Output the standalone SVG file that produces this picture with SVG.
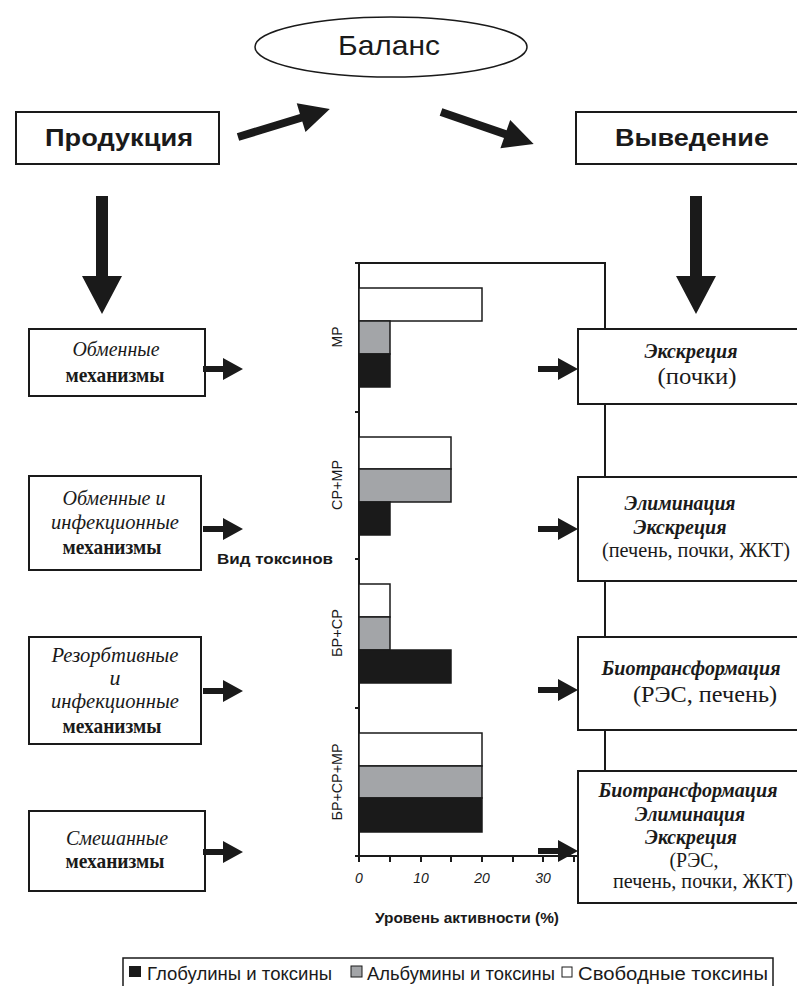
<svg xmlns="http://www.w3.org/2000/svg" xmlns:xlink="http://www.w3.org/1999/xlink" width="797" height="986" viewBox="0 0 797 986">
<style>
.box{fill:#fff;stroke:#1a1a1a;stroke-width:2}
.sans{font-family:"Liberation Sans",Arial,sans-serif;fill:#1a1a1a}
.sb{font-family:"Liberation Sans",Arial,sans-serif;font-weight:bold;fill:#1a1a1a}
.ser{font-family:"Liberation Serif","Times New Roman",serif;fill:#1a1a1a}
.si{font-family:"Liberation Serif","Times New Roman",serif;font-style:italic;fill:#1a1a1a}
.sbi{font-family:"Liberation Serif","Times New Roman",serif;font-style:italic;font-weight:bold;fill:#1a1a1a}
.sbd{font-family:"Liberation Serif","Times New Roman",serif;font-weight:bold;fill:#1a1a1a}
.arr{fill:#1a1a1a}
.axis{stroke:#1a1a1a;stroke-width:2;fill:none}
.bw{fill:#fff;stroke:#1a1a1a;stroke-width:1.5}
.bg{fill:#a3a5a8;stroke:#1a1a1a;stroke-width:1.5}
.bk{fill:#1a1a1a;stroke:#1a1a1a;stroke-width:1.5}
.ylab{font-family:"Liberation Sans",Arial,sans-serif;font-size:15px;fill:#1a1a1a}
.xlab{font-family:"Liberation Sans",Arial,sans-serif;font-size:14px;font-style:italic;fill:#1a1a1a}
</style>
<defs>
<path id="sa" d="M0,-3 H20 V-11 L40,0 L20,11 V3 H0 Z"/>
<path id="da" d="M-6,0 V80 H-20 L0,118 L20,80 H6 V0 Z"/>
</defs>

<!-- chart -->
<g id="chart">
  <path class="axis" d="M359,263 H605 V860 M355,263 H359 M359,263 V856 M355,412 H359 M355,559 H359 M355,708 H359 M355,856 H578"/>
  <path class="axis" stroke-width="1.5" d="M359,856 V862 M390,856 V862 M421,856 V862 M451,856 V862 M482,856 V862 M513,856 V862 M543,856 V862 M574,856 V862"/>
  <rect class="bw" x="359" y="288" width="123" height="33"/>
  <rect class="bg" x="359" y="321" width="31" height="33"/>
  <rect class="bk" x="359" y="354" width="31" height="33"/>
  <rect class="bw" x="359" y="437" width="92" height="32"/>
  <rect class="bg" x="359" y="469" width="92" height="33"/>
  <rect class="bk" x="359" y="502" width="31" height="33"/>
  <rect class="bw" x="359" y="584" width="31" height="33"/>
  <rect class="bg" x="359" y="617" width="31" height="33"/>
  <rect class="bk" x="359" y="650" width="92" height="33"/>
  <rect class="bw" x="359" y="733" width="123" height="33"/>
  <rect class="bg" x="359" y="766" width="123" height="32"/>
  <rect class="bk" x="359" y="798" width="123" height="34"/>
  <text class="ylab" transform="translate(342,337) rotate(-90)" text-anchor="middle" textLength="21" lengthAdjust="spacingAndGlyphs">МР</text>
  <text class="ylab" transform="translate(342,485) rotate(-90)" text-anchor="middle" textLength="50" lengthAdjust="spacingAndGlyphs">СР+МР</text>
  <text class="ylab" transform="translate(342,633) rotate(-90)" text-anchor="middle" textLength="48" lengthAdjust="spacingAndGlyphs">БР+СР</text>
  <text class="ylab" transform="translate(342,782) rotate(-90)" text-anchor="middle" textLength="77" lengthAdjust="spacingAndGlyphs">БР+СР+МР</text>
  <text class="xlab" x="359" y="883" text-anchor="middle">0</text>
  <text class="xlab" x="421" y="883" text-anchor="middle">10</text>
  <text class="xlab" x="482" y="883" text-anchor="middle">20</text>
  <text class="xlab" x="543" y="883" text-anchor="middle">30</text>
  <text class="sb" x="217" y="564" font-size="15" textLength="116" lengthAdjust="spacingAndGlyphs">Вид токсинов</text>
  <text class="sb" x="375" y="923" font-size="14" textLength="184" lengthAdjust="spacingAndGlyphs">Уровень активности (%)</text>
</g>

<!-- top nodes -->
<g id="balance">
  <ellipse cx="391" cy="47" rx="136" ry="30" fill="#fff" stroke="#1a1a1a" stroke-width="1.5"/>
  <text class="sans" x="389" y="55" font-size="28" text-anchor="middle" textLength="102" lengthAdjust="spacingAndGlyphs">Баланс</text>
</g>
<g id="production">
  <rect class="box" x="16" y="112" width="203" height="52"/>
  <text class="sb" x="45" y="146" font-size="23" textLength="148" lengthAdjust="spacingAndGlyphs">Продукция</text>
</g>
<g id="excretion-main">
  <rect class="box" x="576" y="112" width="230" height="52"/>
  <text class="sb" x="615" y="146" font-size="23" textLength="154" lengthAdjust="spacingAndGlyphs">Выведение</text>
</g>

<!-- left nodes -->
<g id="left1">
  <rect class="box" x="29" y="329" width="176" height="67"/>
  <text class="si" x="116" y="356" font-size="22" text-anchor="middle" textLength="87" lengthAdjust="spacingAndGlyphs">Обменные</text>
  <text class="sbd" x="115" y="382" font-size="22" text-anchor="middle" textLength="99" lengthAdjust="spacingAndGlyphs">механизмы</text>
</g>
<g id="left2">
  <rect class="box" x="29" y="476" width="172" height="94"/>
  <text class="si" x="114" y="505" font-size="22" text-anchor="middle" textLength="103" lengthAdjust="spacingAndGlyphs">Обменные и</text>
  <text class="si" x="115" y="529" font-size="22" text-anchor="middle" textLength="128" lengthAdjust="spacingAndGlyphs">инфекционные</text>
  <text class="sbd" x="112" y="554" font-size="22" text-anchor="middle" textLength="99" lengthAdjust="spacingAndGlyphs">механизмы</text>
</g>
<g id="left3">
  <rect class="box" x="29" y="637" width="172" height="107"/>
  <text class="si" x="115" y="662" font-size="22" text-anchor="middle" textLength="127" lengthAdjust="spacingAndGlyphs">Резорбтивные</text>
  <text class="si" x="115" y="685" font-size="22" text-anchor="middle">и</text>
  <text class="si" x="115" y="708" font-size="22" text-anchor="middle" textLength="128" lengthAdjust="spacingAndGlyphs">инфекционные</text>
  <text class="sbd" x="112" y="733" font-size="22" text-anchor="middle" textLength="99" lengthAdjust="spacingAndGlyphs">механизмы</text>
</g>
<g id="left4">
  <rect class="box" x="29" y="811" width="176" height="80"/>
  <text class="si" x="117" y="845" font-size="22" text-anchor="middle" textLength="102" lengthAdjust="spacingAndGlyphs">Смешанные</text>
  <text class="sbd" x="115" y="868" font-size="22" text-anchor="middle" textLength="99" lengthAdjust="spacingAndGlyphs">механизмы</text>
</g>

<!-- right nodes -->
<g id="right1">
  <rect class="box" x="578" y="329" width="230" height="75"/>
  <text class="sbi" x="691" y="358" font-size="21" text-anchor="middle" textLength="93" lengthAdjust="spacingAndGlyphs">Экскреция</text>
  <text class="ser" x="697" y="384" font-size="23" text-anchor="middle" textLength="79" lengthAdjust="spacingAndGlyphs">(почки)</text>
</g>
<g id="right2">
  <rect class="box" x="578" y="477" width="230" height="104"/>
  <text class="sbi" x="680" y="510" font-size="21" text-anchor="middle" textLength="111" lengthAdjust="spacingAndGlyphs">Элиминация</text>
  <text class="sbi" x="680" y="534" font-size="21" text-anchor="middle" textLength="93" lengthAdjust="spacingAndGlyphs">Экскреция</text>
  <text class="ser" x="696" y="557" font-size="20" text-anchor="middle" textLength="188" lengthAdjust="spacingAndGlyphs">(печень, почки, ЖКТ)</text>
</g>
<g id="right3">
  <rect class="box" x="578" y="637" width="230" height="93"/>
  <text class="sbi" x="691" y="675" font-size="21" text-anchor="middle" textLength="179" lengthAdjust="spacingAndGlyphs">Биотрансформация</text>
  <text class="ser" x="705" y="702" font-size="24" text-anchor="middle" textLength="144" lengthAdjust="spacingAndGlyphs">(РЭС, печень)</text>
</g>
<g id="right4">
  <rect class="box" x="578" y="771" width="230" height="132"/>
  <text class="sbi" x="688" y="797" font-size="21" text-anchor="middle" textLength="179" lengthAdjust="spacingAndGlyphs">Биотрансформация</text>
  <text class="sbi" x="690" y="821" font-size="21" text-anchor="middle" textLength="110" lengthAdjust="spacingAndGlyphs">Элиминация</text>
  <text class="sbi" x="691" y="844" font-size="21" text-anchor="middle" textLength="92" lengthAdjust="spacingAndGlyphs">Экскреция</text>
  <text class="ser" x="694" y="867" font-size="20" text-anchor="middle" textLength="49" lengthAdjust="spacingAndGlyphs">(РЭС,</text>
  <text class="ser" x="703" y="888" font-size="20" text-anchor="middle" textLength="180" lengthAdjust="spacingAndGlyphs">печень, почки, ЖКТ)</text>
</g>

<!-- connectors -->
<g id="connectors" class="arr">
  <path d="M0,-4 H66 V-15 L96,0 L66,15 V4 H0 Z" transform="translate(238,137) rotate(-17)"/>
  <path d="M0,-4 H68 V-15 L98,0 L68,15 V4 H0 Z" transform="translate(441,112) rotate(19)"/>
  <use xlink:href="#da" transform="translate(102,196)"/>
  <use xlink:href="#da" transform="translate(696,196)"/>
  <use xlink:href="#sa" transform="translate(203,369)"/>
  <use xlink:href="#sa" transform="translate(203,529)"/>
  <use xlink:href="#sa" transform="translate(203,691)"/>
  <use xlink:href="#sa" transform="translate(203,852)"/>
  <use xlink:href="#sa" transform="translate(538,369)"/>
  <use xlink:href="#sa" transform="translate(538,529)"/>
  <use xlink:href="#sa" transform="translate(538,690)"/>
  <use xlink:href="#sa" transform="translate(538,851)"/>
</g>

<!-- legend -->
<g id="legend">
  <rect x="123" y="958" width="650" height="40" fill="#fff" stroke="#1a1a1a" stroke-width="1.5"/>
  <rect x="129" y="966" width="12" height="11" fill="#1a1a1a"/>
  <text class="sans" x="147" y="980" font-size="18" textLength="185" lengthAdjust="spacingAndGlyphs">Глобулины и токсины</text>
  <rect x="351" y="966" width="11" height="11" fill="#a3a5a8" stroke="#1a1a1a" stroke-width="1"/>
  <text class="sans" x="367" y="980" font-size="18" textLength="188" lengthAdjust="spacingAndGlyphs">Альбумины и токсины</text>
  <rect x="562" y="967" width="10" height="10" fill="#fff" stroke="#1a1a1a" stroke-width="1"/>
  <text class="sans" x="578" y="980" font-size="18" textLength="190" lengthAdjust="spacingAndGlyphs">Свободные токсины</text>
</g>
</svg>
